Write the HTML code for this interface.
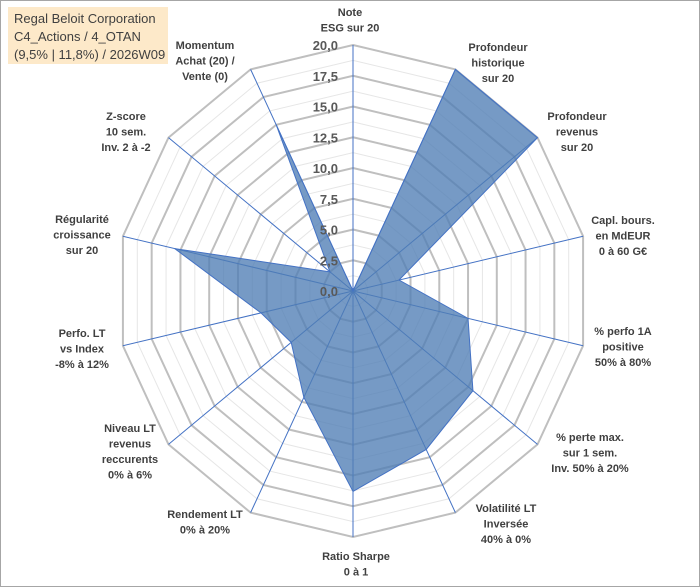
<!DOCTYPE html>
<html><head><meta charset="utf-8"><style>
body{margin:0;background:#fff;}
svg{display:block;font-family:"Liberation Sans",sans-serif;}
.lab{font-size:11px;font-weight:bold;fill:#404040;text-anchor:middle;}
.tick{font-size:13px;font-weight:bold;fill:#595959;text-anchor:end;}
</style></head><body>
<svg id="chart" width="700" height="587" viewBox="0 0 700 587">
<rect x="0.5" y="0.5" width="699" height="586" fill="#fff" stroke="#a6a6a6"/>
<g id="grid"></g>
<g id="axes"></g>
<g id="series"></g>
<g id="ticks"></g>
<g id="labels"></g>
<g>
<rect x="8" y="7" width="160" height="57" fill="#fde9c9"/>
<text x="14" y="23" font-size="13" fill="#404040">Regal Beloit Corporation</text>
<text x="14" y="41" font-size="13" fill="#404040">C4_Actions / 4_OTAN</text>
<text x="14" y="59" font-size="13" fill="#404040">(9,5% | 11,8%) / 2026W09</text>
</g>
</svg>
<script>
const categories=[["Note","ESG sur 20"],["Profondeur","historique","sur 20"],["Profondeur","revenus","sur 20"],["Capl. bours.","en MdEUR","0 à 60 G€"],["% perfo 1A","positive","50% à 80%"],["% perte max.","sur 1 sem.","Inv. 50% à 20%"],["Volatilité LT","Inversée","40% à 0%"],["Ratio Sharpe","0 à 1"],["Rendement LT","0% à 20%"],["Niveau LT","revenus","reccurents","0% à 6%"],["Perfo. LT","vs Index","-8% à 12%"],["Régularité","croissance","sur 20"],["Z-score","10 sem.","Inv. 2 à -2"],["Momentum","Achat (20) /","Vente (0)"]];
const values=[0,20,20,4,10,13,14.3,16.3,9.6,6.7,8,15.5,2.5,15];
const tickLabels=["0,0","2,5","5,0","7,5","10,0","12,5","15,0","17,5","20,0"];
const labelPos=[[350,12],[498,47],[577,116],[623,220],[623,331],[590,437],[506,508],[356,556],[205,514],[130,428],[82,333],[82,219],[126,116],[205,45]];
const cx=353,cy=291,rx=236,ry=246,maxV=20,N=categories.length;
const NS="http://www.w3.org/2000/svg";
function pt(i,v){const a=2*Math.PI*i/N;return [cx+rx*(v/maxV)*Math.sin(a),cy-ry*(v/maxV)*Math.cos(a)];}
function mk(tag,attrs,parent){const e=document.createElementNS(NS,tag);for(const k in attrs)e.setAttribute(k,attrs[k]);document.getElementById(parent).appendChild(e);return e;}
for(let s=1;s<=16;s++){const v=s*1.25;const p=[];for(let i=0;i<N;i++)p.push(pt(i,v).join(","));
const e=mk("polygon",{points:p.join(" "),fill:"none",stroke:s%2?"#e6e6e6":"#bfbfbf","stroke-width":s%2?1:2},"grid");

}
for(let i=0;i<N;i++){const p=pt(i,maxV);const e=mk("line",{x1:cx,y1:cy,x2:p[0],y2:p[1],stroke:"#4472c4","stroke-width":1},"axes");

}
const sp=values.map((v,i)=>pt(i,v).join(",")).join(" ");
const poly=mk("polygon",{points:sp,fill:"#4f7db5","fill-opacity":"0.78",stroke:"#4472c4","stroke-width":1},"series");


tickLabels.forEach((t,k)=>{const p=pt(0,k*2.5);const e=mk("text",{x:p[0]-15,y:p[1]+5,class:"tick"},"ticks");e.textContent=t;

});
categories.forEach((lines,i)=>{const [x,y]=labelPos[i];const e=mk("text",{x:x,y:y+4,class:"lab"},"labels");


lines.forEach((l,j)=>{const ts=document.createElementNS(NS,"tspan");ts.setAttribute("x",x);ts.setAttribute("dy",j?15.5:0);ts.textContent=l;e.appendChild(ts);});});
</script>
</body></html>
